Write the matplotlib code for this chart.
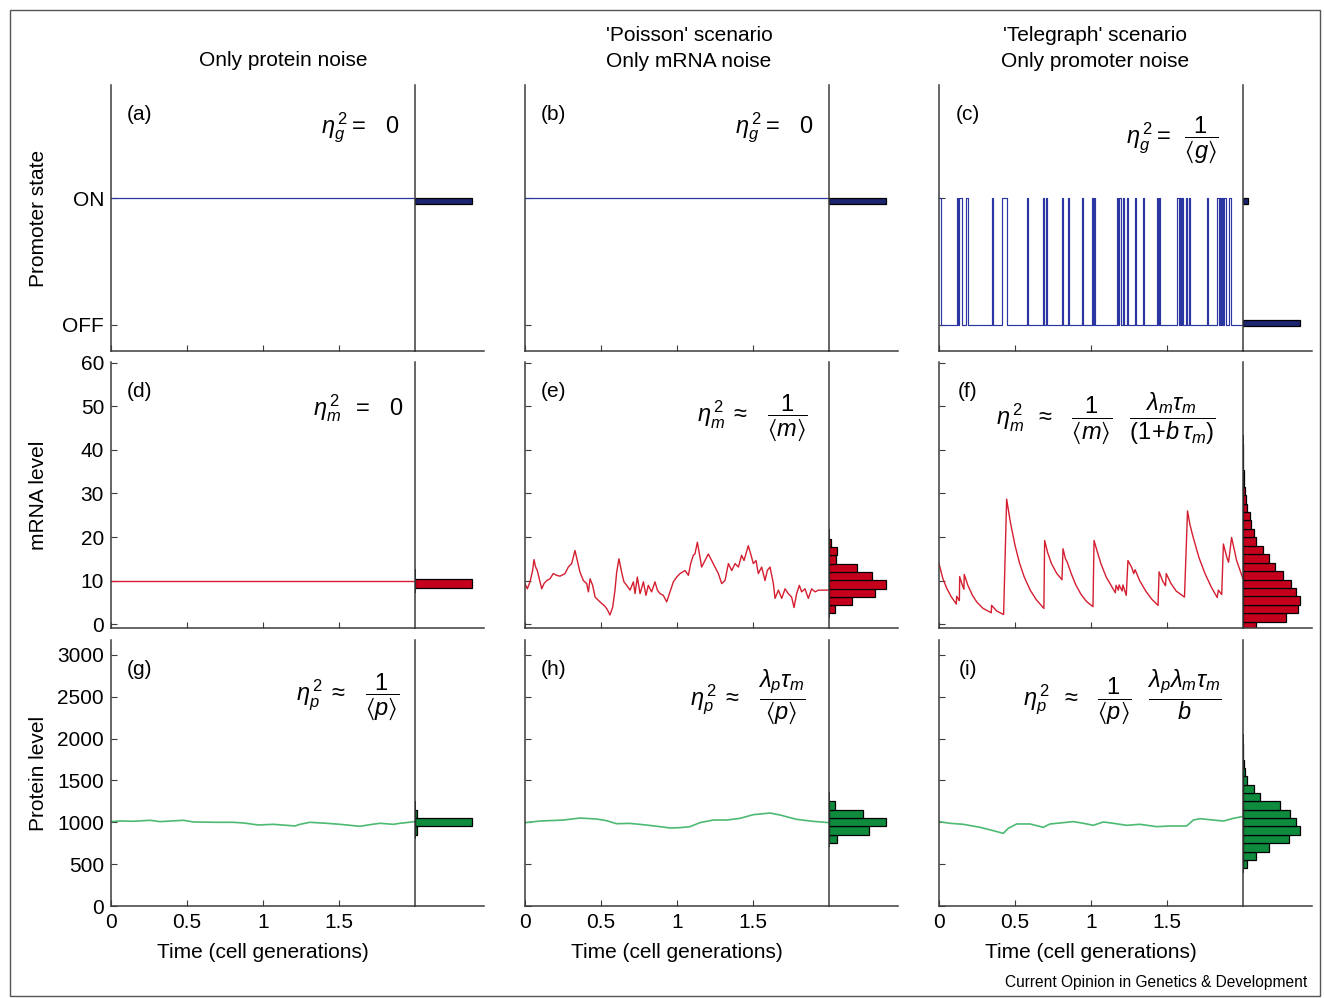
import numpy as np
import matplotlib.pyplot as plt
from matplotlib.patches import Rectangle

plt.rcParams['font.family'] = ['Liberation Sans', 'DejaVu Sans']
plt.rcParams['mathtext.fontset'] = 'custom'
plt.rcParams['mathtext.rm'] = 'Liberation Sans'
plt.rcParams['mathtext.it'] = 'Liberation Sans:italic'
plt.rcParams['mathtext.bf'] = 'Liberation Sans:bold'
plt.rcParams['mathtext.fallback'] = 'stixsans'

# ---- data ----
# promoter state (telegraph): ON intervals [start, end] in cell generations
tel_on_start = [0.0, 0.116, 0.134, 0.178, 0.346, 0.412, 0.581, 0.684, 0.702, 0.807, 0.851,
                0.939, 1.004, 1.020, 1.169, 1.186, 1.208, 1.235, 1.289, 1.344, 1.432, 1.450,
                1.568, 1.586, 1.601, 1.625, 1.645, 1.761, 1.831, 1.846, 1.862, 1.877, 1.910]
tel_on_end = [0.013, 0.125, 0.149, 0.189, 0.353, 0.445, 0.588, 0.693, 0.713, 0.818, 0.857,
              0.945, 1.015, 1.026, 1.175, 1.195, 1.217, 1.243, 1.296, 1.351, 1.439, 1.454,
              1.577, 1.592, 1.607, 1.634, 1.651, 1.770, 1.840, 1.855, 1.871, 1.886, 1.921]

# mRNA, Poisson scenario (e)
t_e = [0, 0.015, 0.033, 0.050, 0.059, 0.070, 0.081, 0.094, 0.110, 0.125,
       0.143, 0.164, 0.186, 0.208, 0.230, 0.263, 0.285, 0.307, 0.329, 0.344,
       0.362, 0.384, 0.406, 0.417, 0.428, 0.445, 0.461, 0.493, 0.526, 0.542,
       0.559, 0.577, 0.592, 0.603, 0.618, 0.636, 0.651, 0.669, 0.691, 0.713,
       0.724, 0.739, 0.757, 0.779, 0.796, 0.811, 0.833, 0.855, 0.871, 0.888,
       0.910, 0.932, 0.954, 0.976, 0.998, 1.020, 1.053, 1.075, 1.090, 1.107,
       1.118, 1.134, 1.151, 1.162, 1.184, 1.206, 1.228, 1.250, 1.272, 1.294,
       1.316, 1.338, 1.360, 1.382, 1.404, 1.425, 1.441, 1.469, 1.485, 1.502,
       1.520, 1.535, 1.557, 1.579, 1.594, 1.612, 1.634, 1.645, 1.667, 1.689,
       1.711, 1.732, 1.754, 1.770, 1.787, 1.805, 1.820, 1.842, 1.864, 1.886,
       1.908, 1.930, 1.963, 2.0]
m_e = [9.3, 8.1, 9.7, 12.3, 14.8, 13.1, 12.3, 10.4, 8.1, 9.3,
       10.0, 10.4, 11.6, 11.2, 11.0, 11.6, 13.1, 13.9, 16.9, 14.6,
       11.9, 10.0, 9.3, 7.4, 10.4, 8.9, 6.2, 5.1, 4.1, 3.3,
       2.1, 3.9, 7.8, 11.9, 15.0, 11.9, 9.7, 8.9, 7.8, 9.7,
       7.0, 10.8, 7.0, 9.7, 6.6, 8.9, 7.4, 9.7, 7.8, 7.0,
       6.6, 5.1, 7.4, 9.7, 10.8, 11.6, 12.3, 11.2, 13.9, 15.8,
       16.1, 18.8, 15.4, 13.1, 14.6, 16.1, 14.6, 13.1, 11.6, 9.3,
       10.0, 13.9, 12.3, 13.9, 13.1, 15.8, 14.6, 18.0, 16.1, 13.9,
       14.6, 11.6, 13.1, 10.0, 12.3, 13.1, 9.3, 5.9, 7.8, 5.9,
       8.1, 7.0, 6.2, 3.8, 7.0, 8.9, 7.4, 8.1, 5.9, 8.1,
       7.4, 7.8, 7.8, 7.8]

# mRNA, telegraph scenario (f): bursts followed by decay
t_f = [0.000, 0.025, 0.050, 0.080, 0.114, 0.116, 0.130, 0.134, 0.136, 0.150,
       0.164, 0.166, 0.190, 0.220, 0.250, 0.290, 0.344, 0.346, 0.380, 0.425,
       0.445, 0.470, 0.500, 0.530, 0.560, 0.600, 0.640, 0.690, 0.695, 0.715,
       0.740, 0.775, 0.809, 0.816, 0.832, 0.844, 0.870, 0.900, 0.935, 0.970,
       1.013, 1.020, 1.040, 1.065, 1.100, 1.160, 1.165, 1.180, 1.185, 1.205,
       1.210, 1.232, 1.243, 1.268, 1.281, 1.290, 1.320, 1.360, 1.400, 1.441,
       1.448, 1.470, 1.490, 1.495, 1.525, 1.560, 1.615, 1.635, 1.650, 1.670,
       1.710, 1.750, 1.790, 1.830, 1.838, 1.860, 1.871, 1.893, 1.905, 1.925,
       1.958, 2.0]
m_f = [13.9, 10.5, 8.3, 6.3, 4.6, 6.4, 5.6, 5.4, 10.9, 9.3,
       8.0, 11.4, 8.9, 6.6, 5.0, 3.6, 2.6, 4.3, 3.0, 2.2,
       28.7, 23.3, 18.1, 14.0, 10.9, 7.8, 5.6, 3.6, 19.2, 16.4,
       13.9, 11.6, 10.2, 17.3, 15.0, 14.2, 11.6, 9.0, 6.8, 5.2,
       4.0, 19.2, 16.8, 13.9, 10.8, 7.2, 8.9, 7.8, 9.0, 7.6,
       9.0, 6.6, 14.6, 13.0, 11.6, 12.5, 10.0, 7.6, 5.7, 4.3,
       12.0, 10.0, 8.8, 11.6, 9.4, 7.6, 6.2, 26.0, 23.0, 20.2,
       15.3, 11.6, 8.6, 6.1, 7.8, 6.8, 18.4, 15.4, 14.2, 19.9,
       14.6, 10.4]

# protein traces (g), (h), (i)
t_g = [0, 0.059, 0.147, 0.257, 0.322, 0.476, 0.542, 0.695, 0.805, 0.871, 0.969, 1.068,
       1.211, 1.243, 1.309, 1.419, 1.507, 1.594, 1.638, 1.704, 1.770, 1.857, 1.901, 2.0]
p_g = [1008, 1016, 1012, 1024, 1008, 1024, 1004, 1000, 1000, 992, 968, 976,
       956, 976, 1000, 988, 976, 960, 952, 972, 988, 976, 988, 1008]
t_h = [0, 0.099, 0.252, 0.362, 0.471, 0.537, 0.603, 0.691, 0.800, 0.888, 0.954, 1.020,
       1.086, 1.151, 1.239, 1.327, 1.414, 1.502, 1.612, 1.678, 1.787, 1.897, 2.0]
p_h = [996, 1015, 1027, 1051, 1039, 1019, 983, 987, 967, 948, 932, 936,
       948, 996, 1027, 1027, 1047, 1091, 1111, 1087, 1035, 1011, 996]
t_i = [0, 0.072, 0.160, 0.270, 0.357, 0.423, 0.456, 0.511, 0.599, 0.686, 0.730, 0.818,
       0.884, 0.950, 1.015, 1.081, 1.147, 1.235, 1.322, 1.432, 1.520, 1.629, 1.673, 1.717,
       1.805, 1.871, 1.936, 1.991]
p_i = [1008, 988, 976, 940, 900, 868, 928, 980, 980, 940, 980, 996,
       1008, 988, 964, 1004, 988, 964, 976, 948, 956, 956, 1027, 1043,
       1027, 1015, 1047, 1067]

# constant levels (a), (b), (d)
on_level = 1.0
mrna_const = 10.0

# histograms (bin centres, relative counts)
hist_a_y, hist_a_n = [0.975], [1.0]
hist_c_y, hist_c_n = [0.015, 0.975], [1.0, 0.09]
hist_d_y, hist_d_n = [9.25], [1.0]
hist_e_y = [3.4, 5.3, 7.25, 9.1, 11.0, 12.9, 14.85, 16.8, 18.7]
hist_e_n = [0.11, 0.40, 0.81, 1.0, 0.75, 0.49, 0.12, 0.14, 0.04]
hist_f_y = [-0.45, 1.49, 3.43, 5.37, 7.31, 9.25, 11.19, 13.13, 15.07, 17.01, 18.95,
            20.89, 22.83, 24.77, 26.71, 28.65, 30.59, 32.53, 34.47, 36.41, 38.35, 40.29]
hist_f_n = [0.22, 0.75, 0.97, 1.0, 0.93, 0.84, 0.71, 0.56, 0.45, 0.35, 0.22,
            0.19, 0.14, 0.12, 0.07, 0.05, 0.03, 0.02, 0.01, 0.006, 0.004, 0.003]
hist_g_y, hist_g_n = [900, 1000, 1100], [0.04, 1.0, 0.04]
hist_h_y = [800, 900, 1000, 1100, 1200]
hist_h_n = [0.14, 0.71, 1.0, 0.60, 0.10]
hist_i_y = [500, 600, 700, 800, 900, 1000, 1100, 1200, 1300, 1400, 1500, 1600, 1700, 1800, 1900]
hist_i_n = [0.075, 0.23, 0.45, 0.80, 1.0, 0.93, 0.83, 0.65, 0.29, 0.19, 0.075, 0.035, 0.01,
            0.005, 0.003]

col_titles = ["Only protein noise", "'Poisson' scenario\nOnly mRNA noise",
              "'Telegraph' scenario\nOnly promoter noise"]
row_labels = ["Promoter state", "mRNA level", "Protein level"]
panel_tags = [["(a)", "(b)", "(c)"], ["(d)", "(e)", "(f)"], ["(g)", "(h)", "(i)"]]
equations = [
    [r'$\eta_g^{\,2} =\;\;\; 0$', r'$\eta_g^{\,2} =\;\;\; 0$',
     r'$\eta_g^{\,2} =\;\; \dfrac{1}{\langle g\rangle}$'],
    [r'$\eta_m^{\,2}\;\; =\;\;\; 0$', r'$\eta_m^{\,2}\;\approx\;\;\; \dfrac{1}{\langle m\rangle}$',
     r'$\eta_m^{\,2}\;\;\approx\;\;\; \dfrac{1}{\langle m\rangle}\;\;\; \dfrac{\lambda_m\tau_m}{(1\!+\!b\,\tau_m)}$'],
    [r'$\eta_p^{\,2}\;\approx\;\;\; \dfrac{1}{\langle p\rangle}$',
     r'$\eta_p^{\,2}\;\approx\;\;\; \dfrac{\lambda_p\tau_m}{\langle p\rangle}$',
     r'$\eta_p^{\,2}\;\;\approx\;\;\; \dfrac{1}{\langle p\rangle}\;\;\; \dfrac{\lambda_p\lambda_m\tau_m}{b}$'],
]
eq_pos = [[(360, 128), (774, 128), (1172, 140)],
          [(358, 408), (752, 418), (1106, 418)],
          [(348, 697), (748, 697), (1122, 697)]]

# ---- figure ----
W, H = 1324, 998
fig = plt.figure(figsize=(W / 100, H / 100), dpi=100)

def box(l, t, r, b):
    return fig.add_axes([l / W, 1 - b / H, (r - l) / W, (b - t) / H])

def ftext(x, y, s, **kw):
    fig.text(x / W, 1 - y / H, s, **kw)

blue_line, blue_bar = '#2b36a3', '#1c256f'
red_line, red_bar = '#d41e30', '#c4001c'
green_line, green_bar = '#4dba73', '#0f8b3d'
spine_c = '#3c3c3c'

rows_px = [(85, 351), (362, 628), (640, 906)]
cols_px = [111, 525, 939]
ylims = [(-0.205, 1.89), (-0.9, 60.2), (0, 3178)]
yticks = [[0, 1], list(range(0, 61, 10)), list(range(0, 3001, 500))]
ytlabels = [['OFF', 'ON'], [str(v) for v in yticks[1]], [str(v) for v in yticks[2]]]

# telegraph step trace built from the ON intervals
tel_t, tel_s = [], []
for s, e in zip(tel_on_start, tel_on_end):
    tel_t += [s, e]
    tel_s += [1, 0]
tel_t.append(2.0)
tel_s.append(0)

traces = [
    [(None, None), (None, None), (tel_t, tel_s)],
    [([0, 2], [mrna_const] * 2), (t_e, m_e), (t_f, m_f)],
    [(t_g, p_g), (t_h, p_h), (t_i, p_i)],
]
hists = [
    [(hist_a_y, hist_a_n, 0.05), (hist_a_y, hist_a_n, 0.05), (hist_c_y, hist_c_n, 0.05)],
    [(hist_d_y, hist_d_n, 2.1), (hist_e_y, hist_e_n, 1.9), (hist_f_y, hist_f_n, 1.94)],
    [(hist_g_y, hist_g_n, 100), (hist_h_y, hist_h_n, 100), (hist_i_y, hist_i_n, 100)],
]
line_cols = [blue_line, red_line, green_line]
bar_cols = [blue_bar, red_bar, green_bar]

for r, (top, bot) in enumerate(rows_px):
    for c, left in enumerate(cols_px):
        ax = box(left, top, left + 304, bot)
        hx = box(left + 304, top, left + 373, bot)
        for a in (ax, hx):
            a.set_ylim(*ylims[r])
            a.spines['top'].set_visible(False)
            a.spines['right'].set_visible(False)
            for sp in ('left', 'bottom'):
                a.spines[sp].set_color(spine_c)
                a.spines[sp].set_linewidth(1.1)
            a.patch.set_alpha(0)
        ax.set_xlim(0, 2)
        ax.set_xticks([0, 0.5, 1, 1.5])
        ax.set_yticks(yticks[r])
        ax.tick_params(direction='in', length=4, color=spine_c, labelsize=15, pad=5)
        if r == 2:
            ax.set_xticklabels(['0', '0.5', '1', '1.5'])
            ax.set_xlabel('Time (cell generations)', fontsize=15, labelpad=8)
        else:
            ax.set_xticklabels([])
        if c == 0:
            ax.set_yticklabels(ytlabels[r])
        else:
            ax.set_yticklabels([])
        hx.set_xlim(0, 1.21)
        hx.set_xticks([])
        hx.set_yticks([])

        if r == 0:
            if c < 2:
                ax.plot([0, 2], [on_level, on_level], color=blue_line, lw=0.9)
            else:
                ax.step(tel_t, tel_s, where='post', color=blue_line, lw=0.85)
        else:
            tt, yy = traces[r][c]
            ax.plot(tt, yy, color=line_cols[r], lw=1.0 if r == 1 else 1.2)

        hy, hn, hh = hists[r][c]
        hx.barh(hy, hn, height=hh, color=bar_cols[r], edgecolor='black', lw=0.9)
        if r > 0:
            # bar baseline, a little longer than the bars
            hx.plot([0, 0], [min(hy) - hh, max(hy) + 1.6 * hh], color='black', lw=1.3,
                    solid_capstyle='butt')

        ax.text(0.095, 0.888, panel_tags[r][c], transform=ax.transAxes, fontsize=15,
                ha='center', va='center')
        ex, ey = eq_pos[r][c]
        ftext(ex, ey, equations[r][c], fontsize=17, ha='center', va='center')

title_x = [283, 689, 1095]
for c, title in enumerate(col_titles):
    if '\n' in title:
        ftext(title_x[c], 48.5, title, fontsize=15, ha='center', va='center',
              linespacing=1.45)
    else:
        ftext(title_x[c], 61, title, fontsize=15, ha='center', va='center')
for r, lab in enumerate(row_labels):
    ftext(38, (rows_px[r][0] + rows_px[r][1]) / 2, lab, fontsize=15, rotation=90,
          ha='center', va='center')

ftext(1307, 982, 'Current Opinion in Genetics & Development', fontsize=11.2,
      ha='right', va='center')
fig.patches.append(Rectangle((10 / W, 2 / H), 1310 / W, 986 / H, transform=fig.transFigure,
                             fill=False, edgecolor='#555555', lw=1))

fig.savefig('out.png', dpi=100)
